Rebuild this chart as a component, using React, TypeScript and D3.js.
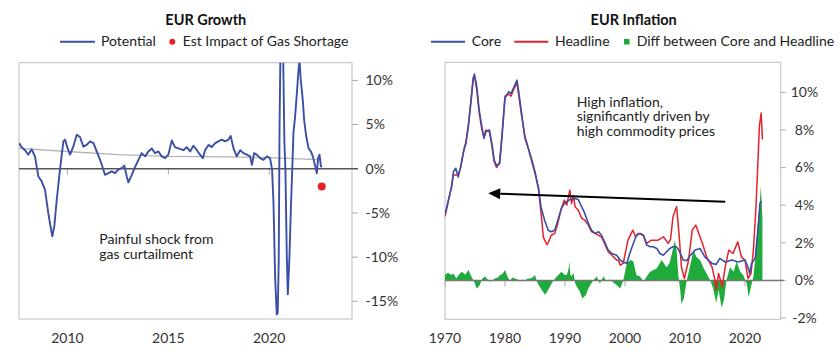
import React from 'react';
import * as d3 from 'd3';

// ---------------- EUR Growth data ----------------
const growthYears = [
  2007.6, 2007.73, 2007.9, 2008.06, 2008.23, 2008.39, 2008.56, 2008.72, 2008.89, 2009.05, 2009.19, 2009.25,
  2009.35, 2009.47, 2009.63, 2009.8, 2009.88, 2010.01, 2010.13, 2010.29, 2010.46, 2010.62, 2010.79, 2010.95,
  2011.12, 2011.29, 2011.45, 2011.62, 2011.73, 2011.86, 2012.03, 2012.19, 2012.36, 2012.52, 2012.69, 2012.82,
  2012.94, 2013.02, 2013.19, 2013.35, 2013.52, 2013.68, 2013.85, 2014.01, 2014.18, 2014.34, 2014.51, 2014.67,
  2014.84, 2015.0, 2015.17, 2015.33, 2015.5, 2015.75, 2015.91, 2016.08, 2016.24, 2016.41, 2016.57, 2016.71,
  2016.82, 2016.99, 2017.15, 2017.32, 2017.48, 2017.65, 2017.81, 2017.98, 2018.09, 2018.23, 2018.39, 2018.56,
  2018.72, 2018.89, 2019.05, 2019.14, 2019.25, 2019.38, 2019.55, 2019.71, 2019.88, 2020.04, 2020.14, 2020.21,
  2020.29, 2020.37, 2020.42, 2020.47, 2020.51, 2020.57, 2020.67, 2020.75, 2020.8, 2020.87, 2020.92, 2021.0,
  2021.07, 2021.14, 2021.2, 2021.28, 2021.37, 2021.45, 2021.5, 2021.56, 2021.66, 2021.73, 2021.83, 2021.95,
  2022.06, 2022.16, 2022.28, 2022.36, 2022.42, 2022.49, 2022.56, 2022.62,
];
const growthValues = [
  2.9, 2.45, 2.1, 1.6, 2.2, 1.4, -0.87, -1.4, -2.4, -5.0, -6.9, -7.65,
  -6.5, -3.5, -0.1, 3.1, 3.3, 2.3, 1.6, 2.5, 3.85, 3.6, 2.5, 2.7,
  3.1, 2.9, 1.96, 1.0, 0.26, -0.68, -0.5, -0.3, -0.5, -0.1, 0.07, 0.35,
  -0.87, -1.55, -0.68, 0.2, 1.0, 1.77, 1.4, 1.96, 2.3, 1.77, 1.96, 1.4,
  1.2, 1.6, 3.2, 2.45, 2.3, 2.1, 2.45, 1.96, 2.6, 2.1, 1.6, 1.2,
  2.1, 2.7, 2.45, 2.9, 3.1, 3.3, 3.1, 3.3, 3.7, 2.3, 1.4, 2.1,
  1.77, 1.6, 1.4, 0.45, 1.77, 1.6, 1.2, 1.0, 1.4, 1.2, -0.1, -3.9,
  -12.2, -16.5, -16.3, -10.3, 4.8, 16, 16, 3, 0, -10, -14.2, -10,
  -4.6, 0, 4.1, 5.9, 8.6, 11.2, 12.3, 10.1, 7.8, 5.5, 3.7, 2.3,
  1.96, 1.4, 0.26, -0.5, 1.2, 1.6, 0.26, 0.2,
];
const potentialYears = [2007.6, 2010, 2012.5, 2015, 2018, 2020, 2022.6];
const potentialValues = [2.3, 1.95, 1.6, 1.4, 1.35, 1.25, 1.0];
const gasShockYear = [2022.6];
const gasShockValue = [-2.0];
const growthYTicks = [10, 5, 0, -5, -10, -15];
const growthXTicks = [2010, 2015, 2020];

// ---------------- EUR Inflation data ----------------
const coreYears = [
  1970.0, 1970.56, 1971.1, 1971.4, 1971.8, 1972.2, 1972.6, 1973.1, 1973.5, 1973.9, 1974.3, 1974.7, 1974.9,
  1975.3, 1975.7, 1976.1, 1976.5, 1976.8, 1977.4, 1977.8, 1978.2, 1978.6, 1979.1, 1979.5, 1980.0, 1980.6,
  1981.0, 1981.5, 1982.0, 1982.3, 1982.8, 1983.3, 1983.9, 1984.4, 1985.0, 1985.6, 1986.0, 1986.6, 1987.2,
  1987.7, 1988.3, 1988.8, 1989.4, 1989.9, 1990.8, 1991.7, 1992.2, 1992.8, 1993.3, 1993.9, 1994.4, 1995.0,
  1995.6, 1996.1, 1996.7, 1997.2, 1997.8, 1998.6, 1999.2, 1999.7, 2000.3, 2000.8, 2001.4, 2001.9, 2002.5,
  2003.1, 2003.6, 2004.2, 2004.7, 2005.3, 2005.8, 2006.4, 2006.9, 2007.5, 2008.0, 2008.5, 2008.8, 2009.1,
  2009.4, 2009.7, 2010.3, 2010.8, 2011.7, 2012.5, 2013.3, 2014.5, 2015.2, 2015.8, 2016.7, 2017.8, 2018.9,
  2020.0, 2020.5, 2020.8, 2021.1, 2021.7, 2022.1, 2022.5, 2022.8,
];
const coreValues = [
  3.5, 4.27, 4.98, 5.78, 5.96, 5.5, 6.04, 6.84, 7.3, 8.2, 9.4, 10.7, 10.97,
  10.3, 9.05, 8.26, 7.55, 7.9, 8.0, 7.3, 6.4, 6.1, 6.2, 7.6, 9.7, 10.03,
  9.94, 10.3, 10.65, 10.0, 8.8, 7.6, 7.0, 6.4, 5.7, 4.9, 3.9, 3.2, 2.67,
  2.59, 2.67, 3.2, 3.83, 4.1, 4.3, 4.35, 4.3, 3.9, 3.56, 3.03, 2.67, 2.5,
  2.59, 2.4, 1.97, 1.61, 1.43, 1.34, 1.08, 0.98, 0.9, 1.43, 1.97, 2.4, 2.5,
  2.4, 1.88, 1.79, 1.79, 1.7, 1.43, 1.34, 1.52, 1.7, 1.79, 1.79, 1.7, 1.52,
  1.3, 1.08, 1.05, 1.3, 1.61, 1.7, 1.25, 0.9, 0.85, 1.17, 0.98, 1.08, 0.98,
  1.08, 0.7, 0.37, 0.9, 1.17, 2.5, 4.1, 4.2,
];
const headlineYears = [
  1970.0, 1970.56, 1971.1, 1971.4, 1971.8, 1972.2, 1972.6, 1973.1, 1973.5, 1973.9, 1974.3, 1974.7, 1974.9,
  1975.3, 1975.7, 1976.1, 1976.5, 1976.8, 1977.4, 1977.8, 1978.2, 1978.6, 1979.1, 1979.5, 1980.0, 1980.6,
  1981.0, 1981.5, 1982.0, 1982.3, 1982.8, 1983.3, 1983.9, 1984.4, 1985.0, 1985.6, 1986.0, 1986.4, 1986.6,
  1987.0, 1987.2, 1987.7, 1988.3, 1988.8, 1989.4, 1989.9, 1990.3, 1990.8, 1991.1, 1991.4, 1991.7, 1992.2,
  1992.8, 1993.3, 1993.9, 1994.4, 1995.0, 1995.6, 1996.1, 1996.7, 1997.2, 1997.8, 1998.6, 1998.9, 1999.2,
  1999.7, 2000.5, 2001.3, 2001.8, 2002.2, 2003.0, 2003.6, 2004.4, 2005.5, 2006.4, 2007.2, 2007.6, 2008.0,
  2008.6, 2009.0, 2009.4, 2009.9, 2010.6, 2011.2, 2011.8, 2012.3, 2012.9, 2013.6, 2014.5, 2015.0, 2015.2,
  2015.6, 2016.2, 2016.7, 2017.3, 2018.0, 2018.8, 2019.4, 2020.0, 2020.5, 2021.0, 2021.4, 2021.8, 2022.1,
  2022.4, 2022.7, 2022.9,
];
const headlineValues = [
  3.4, 4.2, 5.0, 5.6, 5.6, 5.6, 6.0, 6.9, 7.4, 8.3, 9.5, 10.8, 10.9,
  10.1, 8.9, 8.1, 7.6, 8.0, 7.9, 7.2, 6.3, 6.0, 6.3, 7.8, 9.8, 9.9,
  9.8, 10.2, 10.5, 9.8, 8.7, 7.7, 7.0, 6.5, 5.8, 4.8, 3.6, 2.3, 2.14,
  1.9, 2.0, 2.4, 2.5, 3.03, 3.83, 4.27, 4.0, 4.8, 4.1, 4.5, 3.9, 3.74,
  3.3, 3.2, 2.94, 2.6, 2.5, 2.4, 2.3, 1.88, 1.52, 1.34, 1.08, 1.08, 0.81,
  0.9, 2.14, 2.67, 2.3, 2.5, 2.4, 1.97, 2.14, 2.14, 2.32, 1.97, 2.2, 3.39,
  3.92, 2.5, 0.72, 0.1, 1.08, 2.67, 2.94, 2.5, 1.97, 1.25, 0.72, 0.0, -0.5,
  0.37, -0.35, 0.72, 1.61, 1.43, 2.05, 1.25, 1.08, 0.1, 0.37, 1.61, 3.74, 5.87,
  8.2, 8.9, 7.5,
];
const diffYears = [
  1970.0, 1970.5, 1971.0, 1971.4, 1971.9, 1972.3, 1972.8, 1973.4, 1973.9, 1974.4, 1974.9, 1975.3, 1975.8,
  1976.2, 1976.7, 1977.1, 1977.5, 1978.3, 1978.8, 1979.2, 1979.6, 1980.0, 1980.4, 1980.8, 1981.3, 1981.7,
  1982.1, 1982.5, 1982.9, 1983.3, 1983.8, 1984.2, 1984.6, 1985.0, 1985.3, 1985.7, 1986.1, 1986.7, 1987.2,
  1987.7, 1988.1, 1988.5, 1988.9, 1989.4, 1989.9, 1990.3, 1990.6, 1990.7, 1990.9, 1991.1, 1991.4, 1991.7,
  1992.1, 1992.5, 1992.9, 1993.5, 1993.8, 1994.2, 1994.7, 1995.3, 1995.8, 1996.4, 1996.9, 1997.4, 1997.8,
  1998.2, 1998.6, 1999.2, 1999.7, 2000.3, 2000.9, 2001.4, 2001.9, 2002.5, 2003.1, 2003.6, 2004.2, 2004.7,
  2005.2, 2005.6, 2006.1, 2006.5, 2006.9, 2007.4, 2007.8, 2008.3, 2008.6, 2008.9, 2009.2, 2009.4, 2009.8,
  2010.3, 2010.8, 2011.4, 2011.9, 2012.5, 2013.1, 2013.6, 2014.2, 2014.7, 2015.2, 2015.6, 2016.1, 2016.5,
  2016.9, 2017.5, 2018.1, 2018.6, 2019.2, 2019.7, 2020.3, 2020.6, 2021.0, 2021.4, 2021.7, 2022.0, 2022.4,
  2022.65, 2022.9,
];
const diffValues = [
  0.3, 0.4, 0.3, 0.35, 0.1, 0.3, 0.46, 0.3, 0.55, 0.2, -0.1, -0.45, -0.25,
  0.1, 0.2, 0.05, -0.07, 0.1, 0.15, 0.28, 0.35, 0.55, 0.2, 0.0, 0.15, 0.1,
  0.05, -0.07, 0.05, 0.0, 0.1, 0.1, 0.15, 0.28, -0.05, -0.3, -0.5, -0.77, -0.5,
  -0.2, 0.0, 0.15, 0.28, 0.46, 0.3, 0.28, 0.6, 1.0, 0.3, 0.2, 0.4, -0.16,
  -0.4, -0.6, -0.96, -0.78, -0.5, -0.25, 0.0, 0.2, -0.16, 0.2, -0.05, 0.05, -0.05,
  -0.15, -0.25, -0.43, 0.0, 0.9, 1.08, 1.0, 0.28, 0.2, -0.07, 0.2, 0.46, 0.55,
  0.6, 0.8, 1.08, 0.9, 0.7, 0.9, 1.4, 2.14, 1.6, 0.2, -0.5, -1.25, -0.96,
  0.0, 0.7, 1.6, 1.25, 1.08, 0.64, 0.37, 0.0, -0.43, -1.2, -0.5, -1.45, -1.05,
  0.0, 0.7, 0.46, 1.0, 0.46, 0.28, -0.16, -0.9, -0.34, 0.2, 1.08, 2.5, 3.9,
  5.0, 3.3,
];
const inflYTicks = [10, 8, 6, 4, 2, 0, -2];
const inflXTicks = [1970, 1980, 1990, 2000, 2010, 2020];
const arrowFrom = [2016.7, 4.18];
const arrowTo = [1977.2, 4.63];

const FONT = 'Lato, "Open Sans", sans-serif';
const BLUE = '#3b4fa6';
const RED = '#e5212b';
const GREEN = '#1fab3c';
const TEXT = '#222';

export default function App() {
  // ---- left chart geometry ----
  const L = { x0: 19, x1: 352, y0: 62.7, y1: 319 };
  const gx = d3.scaleLinear().domain([2007.6, 2024.1]).range([L.x0, L.x1]);
  const gy = d3.scaleLinear().domain([-17, 12]).range([L.y1, L.y0]);
  const gLine = d3.line<number>().x((_, i) => gx(growthYears[i])).y((v) => gy(v));
  const pLine = d3.line<number>().x((_, i) => gx(potentialYears[i])).y((v) => gy(v));

  // ---- right chart geometry ----
  const R = { x0: 445, x1: 780.7, y0: 62.3, y1: 319.3 };
  const ix = d3.scaleLinear().domain([1970, 2025.95]).range([R.x0, R.x1]);
  const iy = d3.scaleLinear().domain([-2.07, 11.6]).range([R.y1, R.y0]);
  const cLine = d3.line<number>().x((_, i) => ix(coreYears[i])).y((v) => iy(v));
  const hLine = d3.line<number>().x((_, i) => ix(headlineYears[i])).y((v) => iy(v));
  const dArea = d3
    .area<number>()
    .x((_, i) => ix(diffYears[i]))
    .y0(iy(0))
    .y1((v) => iy(v));

  const ax1 = ix(arrowFrom[0]);
  const ay1 = iy(arrowFrom[1]);
  const ax2 = ix(arrowTo[0]);
  const ay2 = iy(arrowTo[1]);
  const ang = Math.atan2(ay2 - ay1, ax2 - ax1);
  const headLen = 12;
  const headW = 5.5;
  const bx = ax2 - headLen * Math.cos(ang);
  const by = ay2 - headLen * Math.sin(ang);
  const px = -Math.sin(ang) * headW;
  const py = Math.cos(ang) * headW;

  return (
    <svg
      width={840}
      height={357}
      style={{ position: 'absolute', left: 0, top: 0, background: '#fff' }}
      fontFamily={FONT}
    >
      <defs>
        <clipPath id="clipL">
          <rect x={L.x0} y={L.y0} width={L.x1 - L.x0} height={L.y1 - L.y0} />
        </clipPath>
        <clipPath id="clipR">
          <rect x={R.x0} y={R.y0} width={R.x1 - R.x0} height={R.y1 - R.y0} />
        </clipPath>
      </defs>

      {/* ================= LEFT: EUR Growth ================= */}
      <text x={205.8} y={25} textAnchor="middle" fontSize={14.5} fontWeight={700} fill="#111">
        EUR Growth
      </text>
      <line x1={60} x2={95} y1={41.7} y2={41.7} stroke={BLUE} strokeWidth={2} />
      <text x={101} y={46} fontSize={14} fill={TEXT}>Potential</text>
      <circle cx={172.3} cy={41.7} r={3} fill={RED} />
      <text x={182.7} y={46} fontSize={14} fill={TEXT}>Est Impact of Gas Shortage</text>

      <rect x={L.x0} y={L.y0} width={L.x1 - L.x0} height={L.y1 - L.y0} fill="none" stroke="#bdbdbd" strokeWidth={1} />
      {growthYTicks.map((t) => (
        <g key={'gyt' + t}>
          <line x1={L.x1} x2={L.x1 + 6} y1={gy(t)} y2={gy(t)} stroke={t === 0 ? '#555' : '#aaa'} strokeWidth={t === 0 ? 1.5 : 1} />
          <text x={365.5} y={gy(t) + 4.8} textAnchor="start" fontSize={14} fill="#333">
            {t}%
          </text>
        </g>
      ))}
      {growthXTicks.map((t) => (
        <g key={'gxt' + t}>
          <line x1={gx(t)} x2={gx(t)} y1={gy(0)} y2={gy(0) + 6} stroke="#aaa" />
          <text x={gx(t)} y={343.3} textAnchor="middle" fontSize={14} fill="#333">
            {t}
          </text>
        </g>
      ))}
      <g clipPath="url(#clipL)">
        <path d={pLine(potentialValues) || ''} fill="none" stroke="#b3b3b3" strokeWidth={1.3} />
        <line x1={L.x0} x2={L.x1} y1={gy(0)} y2={gy(0)} stroke="#555" strokeWidth={1.5} />
        <path d={gLine(growthValues) || ''} fill="none" stroke={BLUE} strokeWidth={1.9} strokeLinejoin="round" />
      </g>
      {gasShockYear.map((yr, i) => (
        <circle key={'gs' + i} cx={gx(yr)} cy={gy(gasShockValue[i])} r={4} fill={RED} />
      ))}
      <text fontSize={14} fill={TEXT}>
        <tspan x={99.3} y={244.3}>Painful shock from</tspan>
        <tspan x={99.3} y={259.3}>gas curtailment</tspan>
      </text>

      {/* ================= RIGHT: EUR Inflation ================= */}
      <text x={633.7} y={25} textAnchor="middle" fontSize={14.5} fontWeight={700} fill="#111">
        EUR Inflation
      </text>
      <line x1={431} x2={465} y1={41.7} y2={41.7} stroke={BLUE} strokeWidth={2} />
      <text x={471.7} y={46} fontSize={14} fill={TEXT}>Core</text>
      <line x1={514.3} x2={548.3} y1={41.7} y2={41.7} stroke={RED} strokeWidth={2} />
      <text x={555} y={46} fontSize={14} fill={TEXT}>Headline</text>
      <rect x={624} y={39} width={5.5} height={5.5} fill={GREEN} />
      <text x={636.7} y={46} fontSize={14} fill={TEXT}>Diff between Core and Headline</text>

      <rect x={R.x0} y={R.y0} width={R.x1 - R.x0} height={R.y1 - R.y0} fill="none" stroke="#bdbdbd" strokeWidth={1} />
      {inflYTicks.map((t) => (
        <g key={'iyt' + t}>
          <line x1={R.x1} x2={R.x1 + 5} y1={iy(t)} y2={iy(t)} stroke="#aaa" />
          <text x={804.5} y={iy(t) + 4.8} textAnchor="middle" fontSize={14} fill="#333">
            {t}%
          </text>
        </g>
      ))}
      {inflXTicks.map((t) => (
        <g key={'ixt' + t}>
          <line x1={ix(t)} x2={ix(t)} y1={iy(0)} y2={iy(0) + 6} stroke="#aaa" />
          <text x={ix(t)} y={343.3} textAnchor="middle" fontSize={14} fill="#333">
            {t}
          </text>
        </g>
      ))}
      <g clipPath="url(#clipR)">
        <path d={dArea(diffValues) || ''} fill={GREEN} stroke="none" />
      </g>
      <line x1={R.x0} x2={R.x1 + 3} y1={iy(0)} y2={iy(0)} stroke="#777" strokeWidth={1.5} />
      <g clipPath="url(#clipR)">
        <path d={hLine(headlineValues) || ''} fill="none" stroke={RED} strokeWidth={1.5} strokeLinejoin="round" />
        <path d={cLine(coreValues) || ''} fill="none" stroke={BLUE} strokeWidth={1.6} strokeLinejoin="round" />
      </g>

      <line x1={ax1} y1={ay1} x2={bx} y2={by} stroke="#000" strokeWidth={2} />
      <polygon
        points={`${ax2},${ay2} ${bx + px},${by + py} ${bx - px},${by - py}`}
        fill="#000"
      />
      <text fontSize={14} fill={TEXT}>
        <tspan x={576.7} y={106.7}>High inflation,</tspan>
        <tspan x={576.7} y={121.4}>significantly driven by</tspan>
        <tspan x={576.7} y={136}>high commodity prices</tspan>
      </text>
    </svg>
  );
}
